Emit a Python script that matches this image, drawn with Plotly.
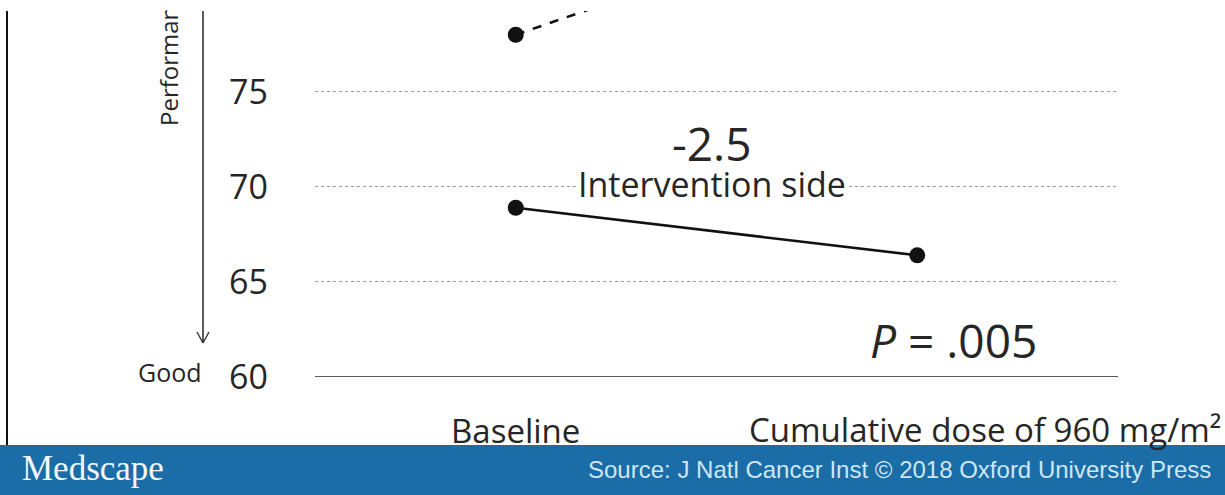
import plotly.graph_objects as go

# ---- data ----
x_positions = [0, 1]
x_labels = ["Baseline", "Cumulative dose of 960 mg/m²"]
control_values = [78.0, 85.3]
intervention_values = [68.9, 66.4]
y_ticks = [60, 65, 70, 75, 80]
change_label = "-2.5"
series_label = "Intervention side"
p_label = "<i>P</i> = .005"
axis_title = "Performance status"
good_label = "Good"
brand = "Medscape"
source = "Source: J Natl Cancer Inst © 2018 Oxford University Press"

W, H = 1225, 495
L, R, T, B = 315, 107, 11, 118
pw, ph = W - L - R, H - T - B

def px(xp):
    return (xp - L) / pw

def py(yp):
    return 1 - (yp - T) / ph

FONT = "Open Sans"
TXT = "#262626"

fig = go.Figure()
fig.add_trace(go.Scatter(
    x=x_positions, y=control_values, mode="lines+markers",
    line=dict(color="#111111", width=2.6, dash="dash"),
    marker=dict(color="#111111", size=16), showlegend=False, cliponaxis=True))
fig.add_trace(go.Scatter(
    x=x_positions, y=intervention_values, mode="lines+markers",
    line=dict(color="#111111", width=2.6),
    marker=dict(color="#111111", size=16), showlegend=False, cliponaxis=True))

fig.update_layout(
    width=W, height=H, margin=dict(l=L, r=R, t=T, b=B, pad=0),
    paper_bgcolor="white", plot_bgcolor="white",
    font=dict(family=FONT, color=TXT),
    xaxis=dict(range=[-0.5, 1.5], showgrid=False, zeroline=False,
               showticklabels=False, ticks="", showline=False, fixedrange=True),
    yaxis=dict(range=[60, 79.25], tickvals=y_ticks, ticktext=[str(v) for v in y_ticks],
               showgrid=True, gridcolor="#9a9a9a", griddash="dot", gridwidth=1,
               zeroline=False, showline=False, ticks="",
               tickfont=dict(size=34, color=TXT, family=FONT),
               ticklabelstandoff=46),
)

# baseline axis line at 60
fig.add_shape(type="line", xref="paper", yref="y", x0=0, x1=1, y0=60, y1=60,
              line=dict(color="#222222", width=1.6), layer="above")

def note(xp, yp, text, size, **kw):
    args = dict(x=px(xp), xref="paper", y=py(yp), yref="paper", text=text,
                showarrow=False, xanchor="center", yanchor="middle",
                font=dict(size=size, color=TXT, family=FONT))
    args.update(kw)
    fig.add_annotation(**args)

# x labels
fig.add_annotation(x=x_positions[0], xref="x", y=py(430), yref="paper",
                   text=x_labels[0], showarrow=False, xanchor="center", yanchor="middle",
                   font=dict(size=33, color=TXT, family=FONT))
fig.add_annotation(x=x_positions[1], xref="x", xshift=-170, y=py(429), yref="paper",
                   text=x_labels[1], showarrow=False, xanchor="left", yanchor="middle",
                   font=dict(size=33, color=TXT, family=FONT))

# annotations in plot
note(712, 184, series_label, 34, bgcolor="white", borderpad=0)
note(712, 143, change_label, 46)
note(953, 340, p_label, 46)

# left frame line
fig.add_shape(type="line", xref="paper", yref="paper", x0=px(7), x1=px(7),
              y0=py(11), y1=py(445), line=dict(color="#111111", width=2))
# vertical axis arrow
fig.add_shape(type="line", xref="paper", yref="paper", x0=px(203), x1=px(203),
              y0=py(11), y1=py(343), line=dict(color="#333333", width=1.6))
fig.add_shape(type="line", xref="paper", yref="paper", x0=px(197), x1=px(203),
              y0=py(332), y1=py(343), line=dict(color="#333333", width=1.4))
fig.add_shape(type="line", xref="paper", yref="paper", x0=px(209), x1=px(203),
              y0=py(332), y1=py(343), line=dict(color="#333333", width=1.4))

note(168, 128, axis_title, 24, textangle=-90, yanchor="bottom")
note(170, 372, good_label, 25)

# banner
fig.add_shape(type="rect", xref="paper", yref="paper", x0=px(0), x1=px(W),
              y0=py(445), y1=py(H + 5), fillcolor="#1a6da6", line=dict(width=0), layer="above")
note(20, 468, brand, 35, xanchor="left",
     font=dict(size=35, color="#f4f8fb", family="Liberation Serif"))
note(1213, 469, source, 24, xanchor="right",
     font=dict(size=24, color="#cfe6f5", family="Liberation Sans"))

# top white strip (image is cropped there)
fig.add_annotation(x=0, xref="paper", y=1, yref="paper", xshift=-L, text=" ",
                   showarrow=False, xanchor="left", yanchor="bottom",
                   width=W, height=T, bgcolor="white", borderpad=0,
                   font=dict(size=4))

fig.write_html("out.html", config={"displayModeBar": False},
               post_script="document.body.style.margin='0';document.body.style.overflow='hidden';")
